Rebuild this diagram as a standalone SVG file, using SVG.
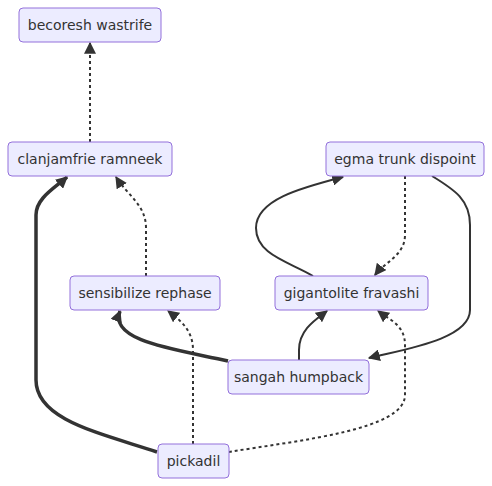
<svg xmlns="http://www.w3.org/2000/svg" width="492" height="486" viewBox="0 0 492 486">
<style>
.node rect{fill:#ECECFF;stroke:#9370DB;stroke-width:1}
.node text{font-family:"DejaVu Sans",Verdana,sans-serif;font-size:14px;fill:#333;text-anchor:middle}
.e{fill:none;stroke:#333;stroke-width:2}
.thick{stroke-width:3.5}
.dot{stroke-dasharray:3 3}
</style>
<defs>
<marker id="arr" viewBox="0 0 10 10" refX="9" refY="5" markerWidth="12" markerHeight="12" markerUnits="userSpaceOnUse" orient="auto">
<path d="M0,0 L10,5 L0,10 z" fill="#333"/>
</marker>
</defs>
<rect width="492" height="486" fill="#fff"/>
<g id="edges">
<path class="e dot" d="M90,142 L90,43" marker-end="url(#arr)"/>
<path class="e dot" d="M146,276 L146,228 C146,205 128,196 116,177" marker-end="url(#arr)"/>
<path class="e thick" d="M157,452 C100,433 36,420 36,380 L36,215 C36,198 55,188 67,177" marker-end="url(#arr)"/>
<path class="e" d="M313,276 C290,262 256,255 256,228 C256,200 300,188 343,177" marker-end="url(#arr)"/>
<path class="e dot" d="M405,176 L405,235 C405,255 385,262 375,275" marker-end="url(#arr)"/>
<path class="e" d="M432,176 C455,190 470,200 470,225 L470,310 C470,340 400,350 369,358" marker-end="url(#arr)"/>
<path class="e thick" d="M228,361 C180,350 108,342 120,311" marker-end="url(#arr)"/>
<path class="e" d="M299,360 L299,350 C299,330 315,320 327,311" marker-end="url(#arr)"/>
<path class="e dot" d="M193,444 L193,350 C193,330 180,320 168,311" marker-end="url(#arr)"/>
<path class="e dot" d="M229,452 C300,440 405,430 405,395 L405,345 C405,325 390,320 378,311" marker-end="url(#arr)"/>
</g>
<g id="becoresh" class="node"><rect x="19" y="8" width="142" height="34" rx="4"/><text x="90" y="30">becoresh wastrife</text></g>
<g id="clanjamfrie" class="node"><rect x="8" y="142" width="164" height="34" rx="4"/><text x="90" y="164">clanjamfrie ramneek</text></g>
<g id="egma" class="node"><rect x="326" y="142" width="158" height="34" rx="4"/><text x="405" y="164">egma trunk dispoint</text></g>
<g id="sensibilize" class="node"><rect x="70" y="276" width="150" height="34" rx="4"/><text x="145" y="298">sensibilize rephase</text></g>
<g id="gigantolite" class="node"><rect x="275" y="276" width="153" height="34" rx="4"/><text x="351.5" y="298">gigantolite fravashi</text></g>
<g id="sangah" class="node"><rect x="228" y="360" width="141" height="34" rx="4"/><text x="298.5" y="382">sangah humpback</text></g>
<g id="pickadil" class="node"><rect x="158" y="444" width="71" height="34" rx="4"/><text x="193.5" y="466">pickadil</text></g>
</svg>
